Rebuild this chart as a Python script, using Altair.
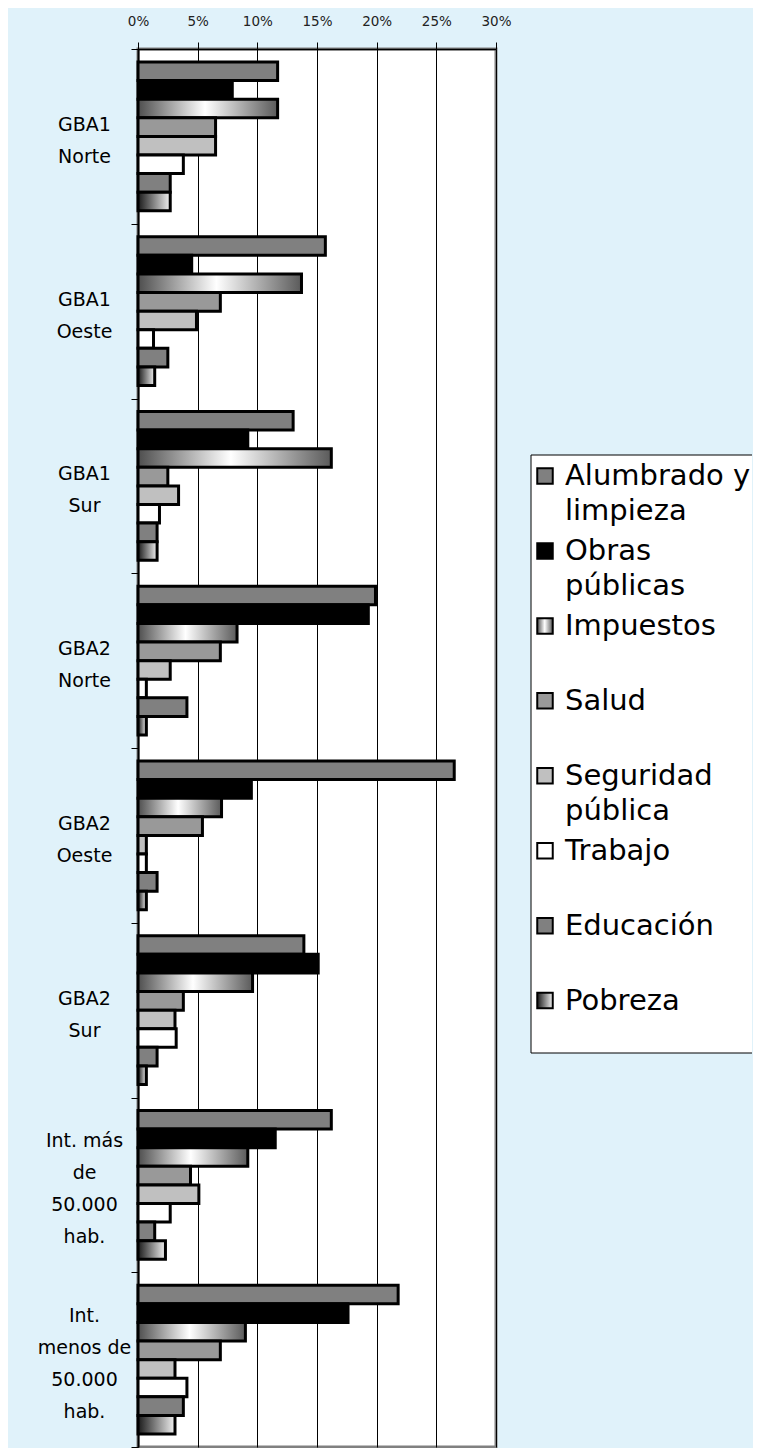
import altair as alt
import pandas as pd

# ---------------- data ----------------
regions = [
    "GBA1\nNorte", "GBA1\nOeste", "GBA1\nSur", "GBA2\nNorte",
    "GBA2\nOeste", "GBA2\nSur", "Int. más\nde\n50.000\nhab.",
    "Int.\nmenos de\n50.000\nhab.",
]
series = ["Alumbrado y limpieza", "Obras públicas", "Impuestos", "Salud",
          "Seguridad pública", "Trabajo", "Educación", "Pobreza"]
legend_line1 = ["Alumbrado y", "Obras", "Impuestos", "Salud",
                "Seguridad", "Trabajo", "Educación", "Pobreza"]
legend_line2 = ["limpieza", "públicas", "", "", "pública", "", "", ""]

alumbrado = [11.7, 15.7, 13.0, 19.9, 26.5, 13.9, 16.2, 21.8]
obras     = [7.9, 4.5, 9.2, 19.3, 9.5, 15.1, 11.5, 17.6]
impuestos = [11.7, 13.7, 16.2, 8.3, 7.0, 9.6, 9.2, 9.0]
salud     = [6.5, 6.9, 2.5, 6.9, 5.4, 3.8, 4.4, 6.9]
seguridad = [6.5, 4.9, 3.4, 2.7, 0.7, 3.1, 5.1, 3.1]
trabajo   = [3.8, 1.3, 1.8, 0.7, 0.7, 3.2, 2.7, 4.1]
educacion = [2.7, 2.5, 1.6, 4.1, 1.6, 1.6, 1.4, 3.8]
pobreza   = [2.7, 1.4, 1.6, 0.7, 0.7, 0.7, 2.3, 3.1]
ticks = [0, 5, 10, 15, 20, 25, 30]

values_by_series = [alumbrado, obras, impuestos, salud, seguridad,
                    trabajo, educacion, pobreza]
rows = []
for s, vals in zip(series, values_by_series):
    for r, v in zip(regions, vals):
        rows.append({"region": r, "series": s, "value": v})
df = pd.DataFrame(rows)

legend_df = pd.DataFrame({
    "idx": list(range(len(series))),
    "series": series,
    "l1": legend_line1,
    "l2": legend_line2,
})

# ---------------- styles ----------------
FONT = "DejaVu Sans"
grad_imp = alt.LinearGradient(
    gradient="linear", x1=0, x2=1, y1=0, y2=0,
    stops=[alt.GradientStop(color="#4E4E4E", offset=0),
           alt.GradientStop(color="#FFFFFF", offset=0.48),
           alt.GradientStop(color="#5A5A5A", offset=1)])
grad_pob = alt.LinearGradient(
    gradient="linear", x1=0, x2=1, y1=0, y2=0,
    stops=[alt.GradientStop(color="#1A1A1A", offset=0),
           alt.GradientStop(color="#F2F2F2", offset=1)])
fills = ["#808080", "#000000", grad_imp, "#999999", "#C0C0C0",
         "#FFFFFF", "#808080", grad_pob]

PLOT_W, PLOT_H = 358, 1398
# legend box layout, pixels relative to the plot origin
LX0, LX1, LY0, LY1 = 393, 614, 406, 1004
ROW0, ROW_STEP = 21, 74.94
LEG_FONT = 29

# ---------------- bars ----------------
base = alt.Chart(df).encode(
    x=alt.X("value:Q",
            scale=alt.Scale(domain=[0, 30], nice=False, zero=True),
            axis=alt.Axis(orient="top", values=ticks, title=None,
                          labelExpr="datum.value + '%'", labelFlush=False,
                          labelFont=FONT, labelFontSize=13.5, labelColor="#222222",
                          labelPadding=14, tickSize=7, tickColor="black",
                          tickWidth=1, domainColor="black", domainWidth=1.5,
                          grid=True, gridColor="black", gridWidth=1,
                          minExtent=41, maxExtent=41)),
    y=alt.Y("region:N",
            scale=alt.Scale(domain=regions, paddingInner=0, paddingOuter=0),
            axis=alt.Axis(orient="left", title=None,
                          labelExpr="indexof(datum.label, 'hab') >= 0 ? "
                                    "split(datum.label, '\\n') : "
                                    "split('\\n' + datum.label + '\\n', '\\n')",
                          labelFont=FONT, labelFontSize=19, labelColor="black",
                          labelAlign="center", labelBaseline="middle",
                          labelLineHeight=32, labelPadding=47, labelLimit=300,
                          labelOffset=-44,
                          tickSize=7, tickColor="black", tickBand="extent",
                          domainColor="black", domainWidth=2,
                          minExtent=130, maxExtent=130)),
    yOffset=alt.YOffset("series:N",
                        scale=alt.Scale(domain=series, paddingInner=0,
                                        paddingOuter=0.7)),
)

bar_layers = [
    base.transform_filter(alt.datum.series == s).mark_bar(
        fill=f, stroke="black", strokeWidth=3, opacity=1)
    for s, f in zip(series, fills)
]

# ---------------- legend (drawn to the right of the plot) ----------------
lbase = alt.Chart(legend_df).transform_calculate(
    py=f"{LY0 + ROW0} + datum.idx * {ROW_STEP}"
).encode(y=alt.Y("py:Q", scale=None, axis=None))

sym_layers = [
    lbase.transform_filter(alt.datum.idx == i).mark_square(
        size=240, fill=f, stroke="black", strokeWidth=2, opacity=1)
    .encode(x=alt.value(LX0 + 14))
    for i, f in enumerate(fills)
]
txt1 = lbase.mark_text(align="left", baseline="middle", font=FONT,
                       fontSize=LEG_FONT, color="black").encode(
    x=alt.value(LX0 + 34), text="l1:N")
txt2 = lbase.transform_filter(alt.datum.l2 != "").mark_text(
    align="left", baseline="middle", font=FONT, fontSize=LEG_FONT,
    color="black", dy=35).encode(x=alt.value(LX0 + 34), text="l2:N")

one = pd.DataFrame({"k": [0]})
box = alt.Chart(one).mark_rect(fill="white", opacity=1).encode(
    x=alt.value(LX0), x2=alt.value(LX1), y=alt.value(LY0), y2=alt.value(LY1))
border_top = alt.Chart(one).mark_rule(color="black", strokeWidth=1).encode(
    x=alt.value(LX0), x2=alt.value(LX1), y=alt.value(LY0))
border_bottom = alt.Chart(one).mark_rule(color="black", strokeWidth=1).encode(
    x=alt.value(LX0), x2=alt.value(LX1), y=alt.value(LY1))
border_left = alt.Chart(one).mark_rule(color="black", strokeWidth=1).encode(
    x=alt.value(LX0), y=alt.value(LY0), y2=alt.value(LY1))

chart = alt.layer(*bar_layers, box, border_top, border_bottom, border_left,
                  *sym_layers, txt1, txt2).properties(
    width=PLOT_W, height=PLOT_H,
    view=alt.ViewBackground(fill="white", stroke="#808080", strokeWidth=3),
    background="#E0F2FA", padding=0,
)

chart.save("out.html", embed_options={"renderer": "svg", "actions": False})
